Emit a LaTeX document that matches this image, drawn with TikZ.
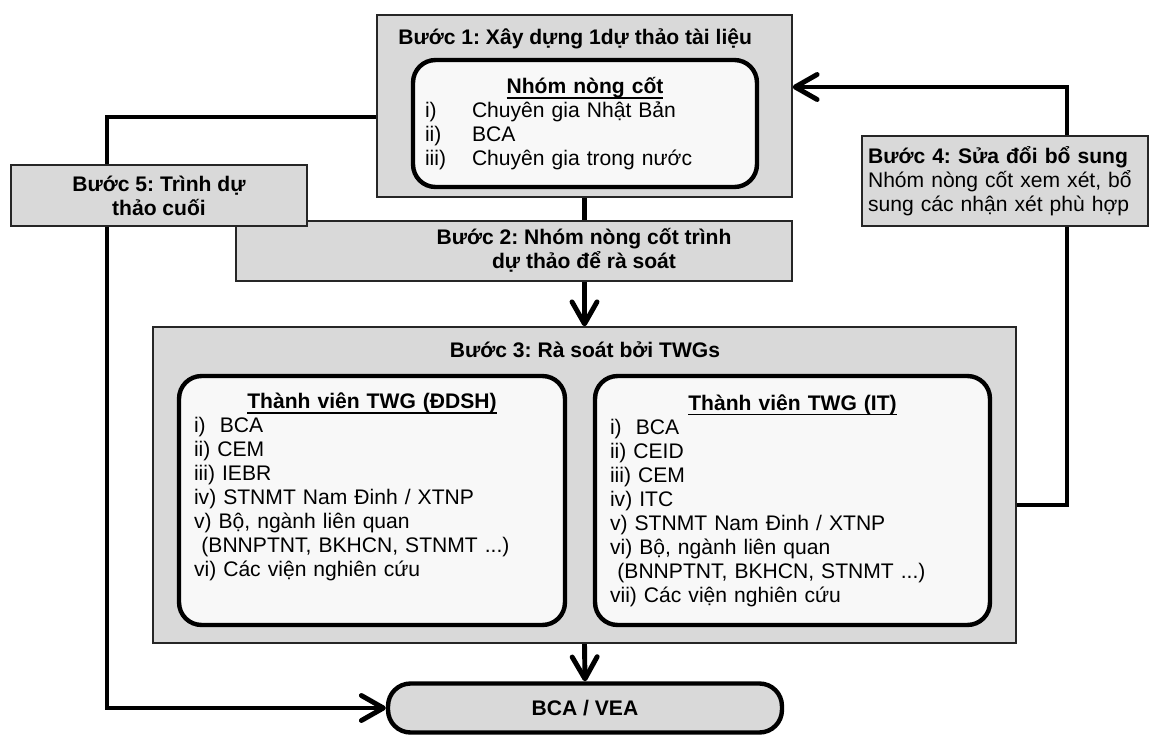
\documentclass[tikz,border=0pt]{standalone}
\usepackage{fontspec}
\setmainfont{Liberation Sans}
\usetikzlibrary{arrows.meta, backgrounds, positioning}
\definecolor{stepgray}{HTML}{D9D9D9}
\definecolor{groupfill}{HTML}{F8F8F8}
\newcommand{\CoreItem}[2]{\makebox[0.94cm][l]{#1}#2}
\newcommand{\GroupTitle}[1]{\centerline{\bfseries\setbox0=\hbox{#1}\rlap{\rule[-3pt]{\wd0}{1.1pt}}\box0}}
\frenchspacing

\begin{document}
\begin{tikzpicture}[x=0.02cm, y=-0.02cm,
    every node/.style={font=\fontsize{12}{13.66}\selectfont},
    stepbox/.style={draw=black!85, line width=0.8pt, fill=stepgray, inner sep=0pt},
    steptitle/.style={font=\fontsize{12}{13.66}\selectfont\bfseries, inner sep=0pt},
    groupbox/.style={draw, line width=2.5pt, rounded corners=0.45cm, fill=groupfill, align=left},
    conn/.style={line width=2.8pt},
    arr/.style={conn, -{Straight Barb[length=4.4mm, width=5mm, round]}},
]
    \useasboundingbox (0,0) rectangle (1150,734);

    % step 1
    \node[stepbox, minimum width=8.3cm, minimum height=3.64cm] (s1) at (584.5,106) {};
    \node[steptitle, anchor=west] (s1title) at (398,39) {Bước 1: Xây dựng 1dự thảo tài liệu};
    \node[groupbox, minimum width=6.88cm, minimum height=2.54cm, text width=6.4cm, inner xsep=0.24cm] (core) at (585,123.5)
        {\GroupTitle{Nhóm nòng cốt}
         \CoreItem{i)}{Chuyên gia Nhật Bản}\\
         \CoreItem{ii)}{BCA}\\
         \CoreItem{iii)}{Chuyên gia trong nước}};

    % step 2
    \node[stepbox, minimum width=11.12cm, minimum height=1.2cm] (s2) at (514,251) {};
    \node[steptitle, align=center] (s2text) at (584,250) {Bước 2: Nhóm nòng cốt trình\\dự thảo để rà soát};

    % step 5
    \node[stepbox, steptitle, align=center, minimum width=5.92cm, minimum height=1.22cm] (s5) at (159,195.5)
        {Bước 5: Trình dự\\thảo cuối};

    % step 4
    \node[stepbox, align=left, text width=5.48cm, inner xsep=0.12cm, minimum width=5.72cm, minimum height=1.8cm] (s4) at (1005,181)
        {\textbf{Bước 4: Sửa đổi bổ sung}\\Nhóm nòng cốt xem xét, bổ\\sung các nhận xét phù hợp};

    % step 3
    \node[stepbox, minimum width=17.26cm, minimum height=6.32cm] (s3) at (584.5,485) {};
    \node[steptitle] (s3title) at (585,350) {Bước 3: Rà soát bởi TWGs};
    \node[groupbox, minimum width=7.72cm, minimum height=4.98cm, text width=7.12cm, inner xsep=0.3cm] (twgl) at (372,500.5)
        {\GroupTitle{Thành viên TWG (ĐDSH)}
         i)~~BCA\\
         ii) CEM\\
         iii) IEBR\\
         iv) STNMT Nam Đinh / XTNP\\
         v) Bộ, ngành liên quan\\
         \hspace*{0.35em}(BNNPTNT, BKHCN, STNMT ...)\\
         vi) Các viện nghiên cứu\\
         \strut};
    \node[groupbox, minimum width=7.9cm, minimum height=4.98cm, text width=7.3cm, inner xsep=0.3cm] (twgr) at (792.5,500.5)
        {\GroupTitle{Thành viên TWG (IT)}
         i)~~BCA\\
         ii) CEID\\
         iii) CEM\\
         iv) ITC\\
         v) STNMT Nam Đinh / XTNP\\
         vi) Bộ, ngành liên quan\\
         \hspace*{0.35em}(BNNPTNT, BKHCN, STNMT ...)\\
         vii) Các viện nghiên cứu};

    % final
    \node[draw, line width=2.5pt, fill=stepgray, rounded corners=0.45cm, minimum width=7.88cm, minimum height=0.98cm,
        font=\fontsize{12}{13.66}\selectfont\bfseries] (bca) at (585,708) {BCA / VEA};

    \coordinate (lft) at (107,117);
    \coordinate (rtop) at (1067,87);
    \coordinate (rjoin) at (1067,505);

    \begin{scope}[on background layer]
    \draw[conn] (s1.south) -- (s1.south |- s2.north);
    \draw[arr] (s3.north |- s2.south) -- (s3.north);
    \draw[arr] (s3.south) -- (bca.north);
    \draw[arr] (s1.west |- lft) -- (lft) |- (bca.west);
    \draw[arr] (s3.east |- rjoin) -- (rjoin) -- (rtop) -- (s1.east |- rtop);
    \end{scope}
\end{tikzpicture}
\end{document}
